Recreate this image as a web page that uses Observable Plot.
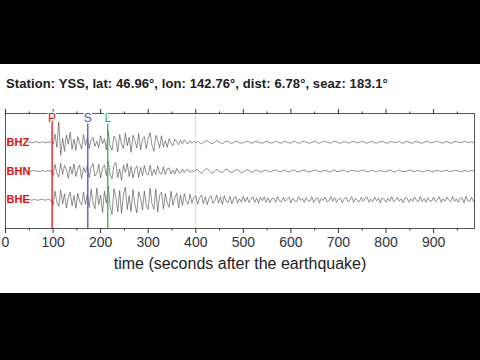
<!DOCTYPE html>
<html><head><meta charset="utf-8">
<script src="https://cdn.jsdelivr.net/npm/d3@7"></script>
<script src="https://cdn.jsdelivr.net/npm/@observablehq/plot@0.6"></script>
<style>
html,body{margin:0;padding:0;background:#000;width:480px;height:360px;overflow:hidden}
#panel{position:absolute;left:0;top:64px;width:480px;height:229px;background:#fff}
#title{position:absolute;left:6px;top:12px;font:bold 13px "Liberation Sans",Arial,sans-serif;color:#222;line-height:16px;white-space:nowrap;letter-spacing:0.1px}
#chart{position:absolute;left:0;top:31px}
</style></head><body>
<div id="panel"><div id="title"></div><div id="chart"></div></div>
<script>
const titleText = "Station: YSS, lat: 46.96°, lon: 142.76°, dist: 6.78°, seaz: 183.1°";
const xLabel = "time (seconds after the earthquake)";
const channels = ["BHZ", "BHN", "BHE"];
const startTime = 48;   // seconds, first sample
const sampleStep = 4;   // seconds between samples
const majorTicks = [0, 100, 200, 300, 400, 500, 600, 700, 800, 900];
const minorTicks = [50, 150, 250, 350, 450, 550, 650, 750, 850, 950];
const phaseNames = ["P", "S", "L"];
const phaseTimes = [98, 173, 215];
const phaseColors = ["#dd1111", "#5050c0", "#30b050"];
const markerTime = 400;

// trace amplitudes (relative counts)
const bhz = [0,1,-1,0,1,0,-1,1,0,-1,0,1,0,
 -4,16,-10,40,-26,8,-18,14,-4,20,-14,6,-16,11,-2,-13,15,-6,9,
 -12,5,10,-8,2,-11,13,-3,7,-15,
 22,-9,-16,12,6,-19,15,-4,-12,18,-7,10,-20,14,3,-11,17,-15,6,11,-13,8,
 19,-6,-18,14,4,-11,13,-9,3,-10,7,-2,-7,6,1,-5,4,-3,5,-1,-3,3,-2,2,-1,
 2,-1,-3,-1,2,3,0,-2,-3,1,3,1,-1,-3,0,2,2,-1,-3,0,2,1,-1,-2,-1,1,2,1,-2,-1,1,2,0,-1,-2,0,2,
 1,-1,-2,0,2,1,-1,-2,1,2,
 0,-1,-2,1,2,0,-2,-1,1,2,
 0,-1,-2,0,1,2,-1,-2,0,1,
 2,0,-1,-2,1,2,1,-1,-2,0,
 1,0,-1,-2,1,2,0,-1,0,1,
 2,-1,-2,0,1,1,-1,-2,0,1,
 2,0,-1,-2,1,1,0,-1,0,2,
 -1,-2,1,1,0,-1,-2,1,2,0,
 -1,-2,0,1,2,-1,-1,0,1,2,
 0,-1,-2,1,1,0,-2,-1,1,2,
 0,-1,0,1,2,-1,0,1,-1];
const bhn = [0,-1,0,1,0,0,-1,0,1,-1,0,0,1,
 -9,13,-4,-12,15,-7,11,3,-14,9,-6,14,-11,4,12,-15,7,-3,11,
 -13,8,15,-10,-5,13,-14,6,12,-9,
 19,-8,-15,11,17,-13,4,-18,12,-3,15,-11,9,-14,3,10,-13,7,-9,11,-5,-8,
 11,-9,3,-7,10,-4,-6,8,-7,4,6,-6,2,-6,5,-2,-4,4,-3,2,3,-3,1,-2,2,
 3,-2,-4,-1,3,5,1,-3,-4,0,3,2,-2,-3,1,4,2,-2,-3,0,2,3,-1,-3,-2,1,3,1,-2,-2,1,2,0,-2,-1,1,2,
 -1,-2,0,1,2,0,-1,-1,1,2,
 -1,-2,0,2,1,-1,-2,0,1,2,
 0,-1,-2,0,1,2,0,-1,-2,1,
 1,0,-1,-2,1,2,-1,-1,0,1,
 2,-1,-2,0,1,1,0,-1,0,1,
 2,0,-1,-2,1,1,-1,-2,0,1,
 0,-1,-2,1,2,0,-1,-2,1,2,
 0,-1,-1,0,1,2,-1,-1,0,1,
 0,-1,-2,1,1,0,-1,-2,1,1,
 0,-1,0,1,2,-1,-1,0,1,1,
 0,-1,-1,1,1,-1,0,1,0];
const bhe = [1,0,-1,1,0,-1,0,1,0,-1,1,0,-1,
 -11,17,-5,-13,19,-8,12,-16,4,15,-12,8,-17,13,-4,-10,15,-9,11,
 -15,21,-6,-18,23,-10,9,-25,17,-7,
 27,-14,-29,22,4,-24,18,-27,11,25,-19,8,-23,20,-9,-26,16,3,-20,17,-12,-19,
 23,-8,-19,21,-24,9,15,-18,12,-6,-15,17,-11,4,13,-16,9,-11,12,-4,-9,11,-7,5,8,
 -9,4,9,-8,6,-10,3,8,-7,-2,9,-6,5,-9,8,-3,-6,7,-8,4,6,-7,2,-5,7,-4,5,-6,1,6,-5,3,-7,5,-2,6,-5,
 4,-6,2,3,-5,6,-2,-4,5,-3,
 1,5,-6,3,-2,-4,6,-1,3,-5,
 4,-2,-3,6,-5,2,4,-6,3,-1,
 5,-4,-2,6,-3,4,-5,1,3,-6,
 2,5,-4,-1,6,-5,3,-2,-4,5,
 -3,2,6,-5,1,-4,5,-2,3,-6,
 4,1,-5,3,-3,6,-4,-1,5,-3,
 2,-6,4,3,-5,2,-3,5,-1,-4,
 6,-3,2,-5,4,-2,-3,5,-4,1,
 6,-5,2,-3,5,-1,-4,6,-3,2,
 -5,3,4,-6,7,-2,-3,5,-4];

const traces = [bhz, bhn, bhe];
const gain = 1 / 57; // counts -> trace spacing units
const rows = channels.flatMap((c, ci) =>
  traces[ci].map((v, i) => ({channel: c, t: startTime + sampleStep * i, amp: -ci + v * gain})));
const phases = phaseNames.map((n, i) => ({name: n, t: phaseTimes[i], color: phaseColors[i]}));

document.getElementById("title").textContent = titleText;

const chart = Plot.plot({
  width: 480, height: 198,
  marginTop: 18, marginBottom: 65, marginLeft: 5, marginRight: 6,
  style: {fontFamily: "'Liberation Sans', Arial, sans-serif", background: "transparent", color: "#333"},
  x: {domain: [0, 986]},
  y: {domain: [-3, 1], axis: null},
  color: {type: "identity"},
  marks: [
    Plot.ruleX([markerTime], {stroke: "#d8d8d8"}),
    Plot.line(rows, {x: "t", y: "amp", z: "channel", stroke: "#333", strokeWidth: 0.55, clip: true}),
    Plot.ruleX(phases, {x: "t", stroke: "color", strokeWidth: 1.3}),
    Plot.frame({stroke: "#555"}),
    Plot.axisX({anchor: "bottom", ticks: majorTicks, tickSize: 5, fontSize: 14, label: null}),
    Plot.axisX({anchor: "bottom", ticks: minorTicks, tickSize: 2.5, tickFormat: () => "", label: null}),
    Plot.axisX({anchor: "top", ticks: majorTicks, tickSize: 5, tickFormat: () => "", label: null}),
    Plot.axisX({anchor: "top", ticks: minorTicks, tickSize: 2.5, tickFormat: () => "", label: null}),
    Plot.text(phases, {x: "t", frameAnchor: "top", text: "name", fill: "color", stroke: "white", strokeWidth: 3, fontSize: 12}),
    Plot.text(channels, {frameAnchor: "left", y: (d, i) => -i, text: d => d, fill: "#dd1111", textAnchor: "start", dx: 1, fontSize: 11, fontWeight: "bold"}),
    Plot.text([xLabel], {frameAnchor: "bottom", dy: 40, fontSize: 16, fill: "#222"})
  ]
});
document.getElementById("chart").append(chart);
</script>
</body></html>
